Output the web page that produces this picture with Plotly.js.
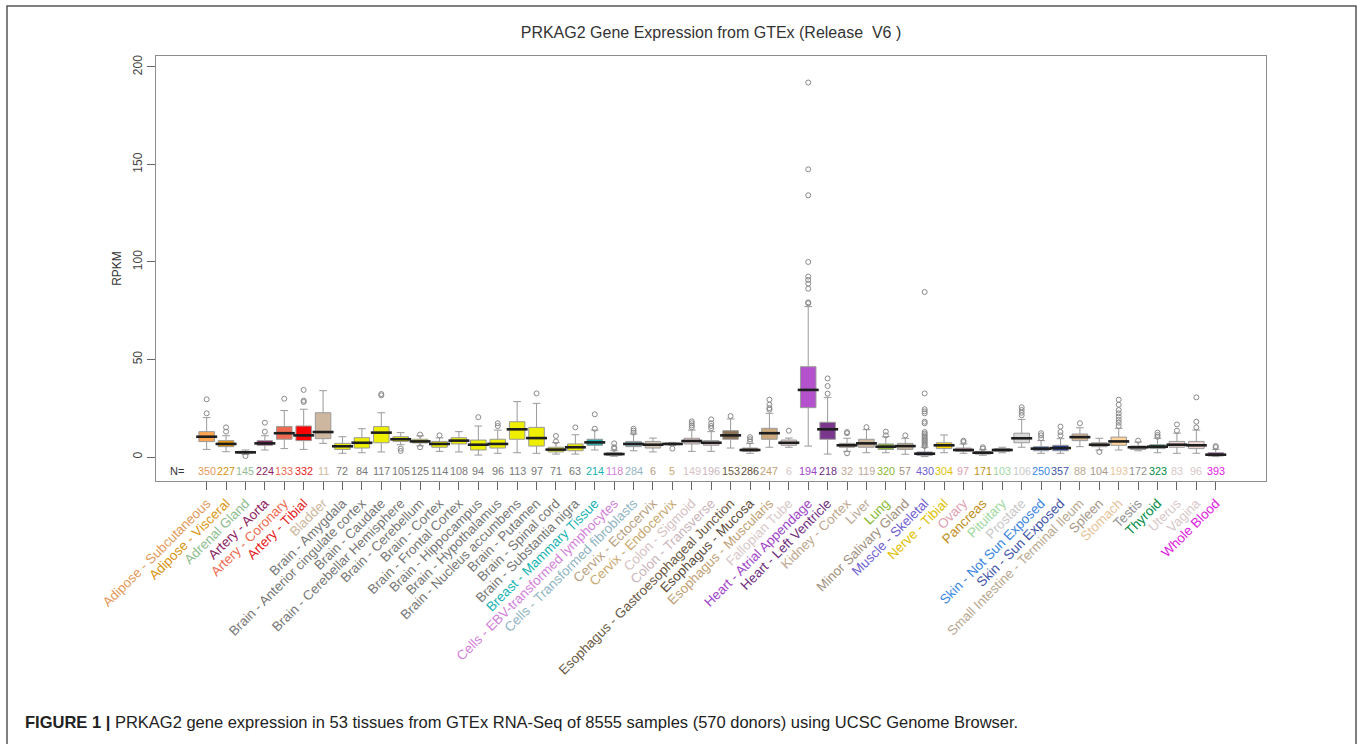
<!DOCTYPE html>
<html><head><meta charset="utf-8">
<script src="https://cdn.plot.ly/plotly-3.0.1.min.js"></script>
<style>html,body{margin:0;padding:0;background:#fff;} #chart{width:1360px;height:744px;}</style>
</head><body><div id="chart"></div>
<script>
const tissues = ["Adipose - Subcutaneous","Adipose - Visceral","Adrenal Gland","Artery - Aorta","Artery - Coronary","Artery - Tibial","Bladder","Brain - Amygdala","Brain - Anterior cingulate cortex","Brain - Caudate","Brain - Cerebellar Hemisphere","Brain - Cerebellum","Brain - Cortex","Brain - Frontal Cortex","Brain - Hippocampus","Brain - Hypothalamus","Brain - Nucleus accumbens","Brain - Putamen","Brain - Spinal cord","Brain - Substantia nigra","Breast - Mammary Tissue","Cells - EBV-transformed lymphocytes","Cells - Transformed fibroblasts","Cervix - Ectocervix","Cervix - Endocervix","Colon - Sigmoid","Colon - Transverse","Esophagus - Gastroesophageal Junction","Esophagus - Mucosa","Esophagus - Muscularis","Fallopian Tube","Heart - Atrial Appendage","Heart - Left Ventricle","Kidney - Cortex","Liver","Lung","Minor Salivary Gland","Muscle - Skeletal","Nerve - Tibial","Ovary","Pancreas","Pituitary","Prostate","Skin - Not Sun Exposed","Skin - Sun Exposed","Small Intestine - Terminal Ileum","Spleen","Stomach","Testis","Thyroid","Uterus","Vagina","Whole Blood"];
const sampleCounts = [350,227,145,224,133,332,11,72,84,117,105,125,114,108,94,96,113,97,71,63,214,118,284,6,5,149,196,153,286,247,6,194,218,32,119,320,57,430,304,97,171,103,106,250,357,88,104,193,172,323,83,96,393];
const q1 =         [7.9,5.3,2.0,6.0,9.1,8.4,9.4,3.9,4.6,7.3,8.0,7.2,5.0,6.7,3.6,4.6,9.1,5.6,2.6,3.2,6.0,0.9,5.3,4.6,6.3,6.7,6.0,9.1,2.9,9.1,6.0,25.3,9.1,5.0,5.0,3.9,3.9,0.9,4.3,2.9,1.5,2.9,7.3,3.2,3.2,8.4,5.3,6.0,3.9,4.3,5.0,4.3,0.5];
const median =     [10.4,6.7,2.4,7.0,12.2,11.1,12.8,5.5,7.3,12.5,9.1,8.0,6.7,8.4,6.3,6.7,14.2,9.7,3.8,5.0,7.5,1.5,6.7,6.3,6.7,8.2,7.3,11.1,3.6,12.2,7.3,34.4,14.2,6.0,7.0,5.3,5.6,1.7,6.0,3.6,2.2,3.6,9.6,4.3,4.6,10.2,6.3,8.0,5.0,5.3,6.3,6.0,1.2];
const q3 =         [13.0,8.4,2.9,8.4,15.6,15.9,22.7,7.0,9.9,15.6,10.4,9.1,8.0,9.9,8.7,9.1,18.1,15.2,5.0,6.7,9.1,2.2,8.0,8.0,7.2,9.6,8.4,13.5,4.6,14.7,8.7,46.3,17.8,7.0,9.1,6.7,7.0,2.6,7.3,4.6,2.9,4.3,12.2,5.3,6.0,11.8,7.3,10.2,5.6,6.3,8.0,8.0,2.2];
const lowerFence = [3.9,2.7,1.3,3.6,4.3,3.9,7.0,1.9,2.2,2.6,6.3,5.7,2.9,2.6,1.0,1.9,2.2,1.9,1.5,1.5,3.6,0.4,3.2,2.6,5.9,2.9,2.9,4.6,1.9,5.0,5.0,5.6,1.5,2.9,2.2,2.2,1.4,0.2,2.2,1.9,0.9,2.2,5.0,1.9,1.9,5.3,3.6,3.6,3.2,2.2,1.9,1.9,0.2];
const upperFence = [20.2,10.9,3.6,10.9,23.8,24.5,34.0,10.4,14.5,22.7,12.5,10.9,9.8,13.0,15.9,13.8,28.4,27.5,7.4,11.4,13.8,3.2,11.8,9.7,7.5,13.8,13.0,19.5,7.0,22.4,9.7,77.1,30.6,9.6,14.0,10.4,9.6,5.0,11.3,6.7,3.9,5.0,19.3,8.4,9.4,15.0,9.6,14.7,7.7,9.6,12.2,13.8,3.9];
const outliers = [
  [22.4,29.6],[13.0,15.2],[0.5],[13.0,17.6],[29.9],[28.2,28.9,34.4],[],[],[],[31.6,32.3],
  [4.3,3.1],[11.5,5.0],[11.1],[],[20.4],[15.9,17.3],[],[32.6],[8.0,10.8],[15.2],
  [14.5,21.9],[4.3,5.0,7.0],[12.5,13.5,14.5],[],[4.3],[15.2,16.2,17.3,18.3],[14.7,15.9,17.3,19.3],[21.0],[8.0,9.1,10.2],[24.3,25.1,26.8,29.4],
  [13.5],[78.8,79.3,86.3,88.9,90.8,92.5,100.0,134.2,147.5,192.0],[32.5,36.4,40.3],[12.2,12.8,1.9],[15.3],[11.1,13.0],[11.1],
  [5.6,6.3,7.0,7.7,8.4,9.1,9.8,10.5,11.2,12.0,12.8,17.3,18.1,22.4,23.4,24.5,32.6,84.6],
  [],[7.7,8.4],[4.3,5.0],[],[21.4,22.7,24.1,25.5],[9.7,11.1,12.2],[11.1,12.8,15.6],[17.3],[2.6],
  [15.9,17.6,19.0,20.7,22.4,24.1,26.8,29.4],[8.4],[10.4,11.3,12.5],[13.5,16.7],[15.2,18.1,30.6],[5.0,5.6]
];
const boxColors = ["#FFA54F","#EE9A00","#8FBC8F","#8B1C62","#EE6A50","#FF0000","#CDB79E",
  "#EEEE00","#EEEE00","#EEEE00","#EEEE00","#EEEE00","#EEEE00","#EEEE00","#EEEE00","#EEEE00","#EEEE00","#EEEE00","#EEEE00","#EEEE00",
  "#1FAFAF","#C878C8","#8FB5C0","#D8C8B8","#D6C2A8","#E2CACA","#E0C8CC","#8B7355","#7A6248","#CDAA7D","#E6D2D0",
  "#B452CD","#7A378B","#CDB79E","#CDB79E","#8DB832","#CDB79E","#3A3AA0","#FFD700","#FFB6C1","#CD9B1D","#B4EEB4","#D9D9D9",
  "#2E6FD0","#2445A8","#D8B892","#CDB79E","#FFD39B","#A6A6A6","#008B45","#EED5D2","#EED5D2","#9A2A9A"];
const labelColors = ["#E39A5A","#D99410","#8FBC8F","#8B1C62","#EE6A50","#E41A1C","#CDB79E",
  "#777777","#777777","#777777","#777777","#777777","#777777","#777777","#777777","#777777","#777777","#777777","#777777","#777777",
  "#17B3B3","#D27FD9","#8FB4C2","#B8A080","#C8A870","#D6C2C2","#C9B4BA","#6B5A45","#5A4A3A","#BFA075","#D8C8C8",
  "#A045C8","#6E2F80","#C0A890","#BBA898","#88B830","#A09080","#7060D0","#E0C000","#E0A0B0","#C09020","#A0D8A0","#C8C8C8",
  "#3A86E0","#3F55A8","#B8A890","#A89888","#E6C39A","#909090","#008B45","#D8C8C8","#D8C8C8","#E020E0"];
const yTicks = [0,50,100,150,200];

const traces = [];
tissues.forEach((t,i) => {
  traces.push({
    type:'box', name:t, x:[t], q1:[q1[i]], median:[median[i]], q3:[q3[i]],
    lowerfence:[lowerFence[i]], upperfence:[upperFence[i]],
    fillcolor: boxColors[i], line:{color:'#9a9a9a', width:1}, width:0.8, whiskerwidth:0.5,
    boxpoints:false, hoverinfo:'skip', showlegend:false
  });
});
const ox = [], oy = [];
outliers.forEach((arr,i) => arr.forEach(v => { ox.push(tissues[i]); oy.push(v); }));
traces.push({type:'scatter', mode:'markers', x:ox, y:oy, showlegend:false, hoverinfo:'skip',
  marker:{symbol:'circle-open', size:5, color:'#8a8a8a', line:{width:1, color:'#8a8a8a'}}});
traces.push({type:'scatter', mode:'markers', x:tissues, y:median, showlegend:false, hoverinfo:'skip',
  marker:{symbol:'line-ew', size:15, color:'#1e1e1e', line:{width:2.6, color:'#1e1e1e'}}});

const L = 156, R = 1266, T = 56, B = 481, W = 1360, H = 744;
const pw = R - L, ph = B - T;
const px = x => (x - L) / pw, py = y => (B - y) / ph;

const annotations = [];
annotations.push({x:-1.55, y:-7.3, xref:'x', yref:'y', text:'N=', showarrow:false,
  font:{family:'Liberation Sans, Arial, sans-serif', size:11, color:'#333'}});
sampleCounts.forEach((n,i) => annotations.push({x:i, y:-7.3, xref:'x', yref:'y', text:String(n), showarrow:false,
  font:{family:'Liberation Sans, Arial, sans-serif', size:10.8, color:labelColors[i]}}));
annotations.push({xref:'paper', yref:'paper', x:px(23), y:py(722), xanchor:'left', yanchor:'middle', showarrow:false,
  text:'<b>FIGURE 1 |</b> PRKAG2 gene expression in 53 tissues from GTEx RNA-Seq of 8555 samples (570 donors) using UCSC Genome Browser.',
  font:{family:'Liberation Sans, Arial, sans-serif', size:16.5, color:'#222'}});

const layout = {
  width:W, height:H, paper_bgcolor:'#fff', plot_bgcolor:'#fff',
  margin:{l:L, r:W-R, t:T, b:H-B, pad:0},
  boxmode:'overlay', showlegend:false,
  title:{text:'PRKAG2 Gene Expression from GTEx (Release  V6 )', x:(L+R)/2/W, xanchor:'center', y:1-32/H, yanchor:'middle',
    font:{family:'Liberation Sans, Arial, sans-serif', size:16, color:'#333'}},
  xaxis:{type:'category', range:[-2.61, 54.59], autorange:false, showgrid:false, zeroline:false,
    showline:true, mirror:true, linecolor:'#8c8c8c', linewidth:1.3,
    ticks:'outside', ticklen:8, tickwidth:1, tickcolor:'#666',
    tickmode:'array', tickvals:tissues,
    ticktext:tissues.map((t,i)=>'<span style="color:'+labelColors[i]+'">'+t+'</span>'),
    tickangle:-45, tickfont:{family:'Liberation Sans, Arial, sans-serif', size:13.4, color:'#777'}},
  yaxis:{range:[-12.3, 205.6], autorange:false, showgrid:false, zeroline:false,
    showline:true, mirror:true, linecolor:'#8c8c8c', linewidth:1.3,
    ticks:'outside', ticklen:8, tickwidth:1, tickcolor:'#666',
    tickmode:'array', tickvals:yTicks, ticktext:yTicks.map(String), tickangle:-90,
    tickfont:{family:'Liberation Sans, Arial, sans-serif', size:12, color:'#444'},
    title:{text:'RPKM', standoff:6, font:{family:'Liberation Sans, Arial, sans-serif', size:12, color:'#333'}}},
  annotations: annotations,
  shapes:[{type:'rect', xref:'paper', yref:'paper', x0:px(7), x1:px(1356), y0:py(760), y1:py(6),
    line:{color:'#555', width:1.5}, fillcolor:'rgba(0,0,0,0)', layer:'above'}]
};
Plotly.newPlot('chart', traces, layout, {staticPlot:true, displayModeBar:false});
</script></body></html>
